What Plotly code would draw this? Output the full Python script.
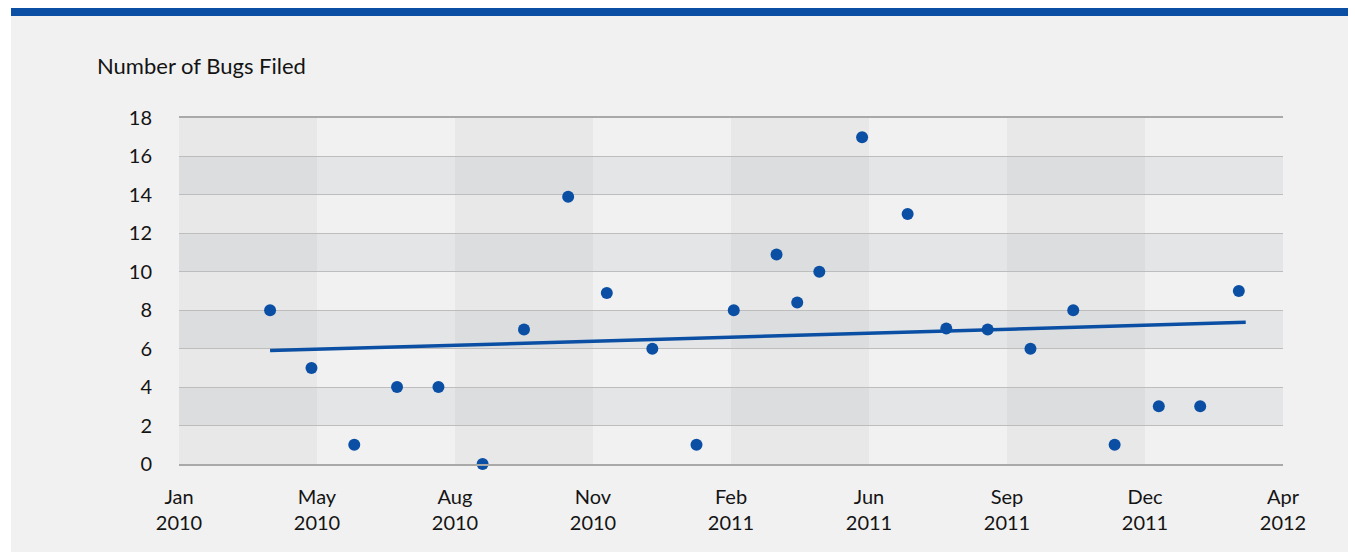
import plotly.graph_objects as go
import pandas as pd

# ---- data ----
dates = ["2010-03-14", "2010-04-13", "2010-05-14", "2010-06-14", "2010-07-14",
         "2010-08-15", "2010-09-14", "2010-10-16", "2010-11-13", "2010-12-16",
         "2011-01-17", "2011-02-13", "2011-03-16", "2011-03-31", "2011-04-16",
         "2011-05-17", "2011-06-19", "2011-07-17", "2011-08-16", "2011-09-16",
         "2011-10-17", "2011-11-16", "2011-12-18", "2012-01-17", "2012-02-14"]
bugs = [8, 5, 1, 4, 4, 0, 7, 13.9, 8.9, 6, 1, 8, 10.9, 8.4, 10, 17, 13, 7.05, 7, 6, 8, 1, 3, 3, 9]

trend_x = ["2010-03-14", "2012-02-19"]
trend_y = [5.9, 7.37]

x_range = ["2010-01-07", "2012-03-17"]
x_tick_labels = ["Jan<br>2010", "May<br>2010", "Aug<br>2010", "Nov<br>2010", "Feb<br>2011",
                 "Jun<br>2011", "Sep<br>2011", "Dec<br>2011", "Apr<br>2012"]
y_ticks = [0, 2, 4, 6, 8, 10, 12, 14, 16, 18]
title_text = "Number of Bugs Filed"

BLUE = "#0a4fa3"
BG = "#f1f1f1"
FONT = "Lato, 'Open Sans', sans-serif"

# evenly spaced tick positions across the axis range
tick_dates = pd.date_range(pd.Timestamp(x_range[0]), pd.Timestamp(x_range[1]),
                           periods=len(x_tick_labels))
tickvals = [d.strftime("%Y-%m-%d %H:%M:%S") for d in tick_dates]

fig = go.Figure()

fig.add_trace(go.Scatter(x=trend_x, y=trend_y, mode="lines",
                         line=dict(color=BLUE, width=3.5), hoverinfo="skip",
                         showlegend=False))
fig.add_trace(go.Scatter(x=dates, y=bugs, mode="markers",
                         marker=dict(color=BLUE, size=12), showlegend=False,
                         cliponaxis=False))

# figure is placed 8px into the page by the default body margin
W, H = 1348, 544
OFF = 8
L, R, T, B = 179 - OFF, 1283 - OFF, 118 - OFF, 464 - OFF
def px_x(p):
    return (p - OFF - L) / (R - L)
def px_y(p):
    return (B - (p - OFF)) / (B - T)

shapes = []
# white strip on the left edge
shapes.append(dict(type="rect", xref="paper", yref="paper", layer="below",
                   x0=px_x(0), x1=px_x(11), y0=px_y(560), y1=px_y(0),
                   fillcolor="white", line=dict(width=0)))
# top bar
shapes.append(dict(type="rect", xref="paper", yref="paper", layer="below",
                   x0=px_x(11), x1=px_x(1360), y0=px_y(16), y1=px_y(4),
                   fillcolor=BLUE, line=dict(width=0)))
# vertical bands: every other tick interval
for i in range(0, len(tickvals) - 1, 2):
    shapes.append(dict(type="rect", xref="x", yref="y domain", layer="below",
                       x0=tickvals[i], x1=tickvals[i + 1], y0=0, y1=1,
                       fillcolor="rgba(0,0,0,0.037)", line=dict(width=0)))
# horizontal bands: every other y interval
for j in range(1, len(y_ticks) - 1, 2):
    shapes.append(dict(type="rect", xref="x domain", yref="y", layer="below",
                       x0=0, x1=1, y0=y_ticks[j], y1=y_ticks[j + 1],
                       fillcolor="rgba(60,80,110,0.066)", line=dict(width=0)))

fig.update_layout(
    width=W, height=H,
    margin=dict(l=L, r=W - R, t=T, b=H - B),
    paper_bgcolor=BG, plot_bgcolor=BG,
    font=dict(family=FONT, size=20, color="#141414"),
    shapes=shapes,
    annotations=[dict(text=title_text, xref="paper", yref="paper",
                      x=px_x(95), y=px_y(65), xanchor="left", yanchor="middle",
                      showarrow=False, font=dict(size=22, color="#141414"))],
)
fig.update_xaxes(type="date", range=x_range, tickvals=tickvals, ticktext=x_tick_labels,
                 showgrid=False, zeroline=False, showline=True, mirror=True,
                 linecolor="#a9a9a9", linewidth=2, ticks="", ticklabelstandoff=14,
                 tickfont=dict(size=20, color="#141414"))
fig.update_yaxes(range=[0, 18], tickvals=y_ticks, showgrid=True, gridcolor="#bdbdbd",
                 gridwidth=1, zeroline=False, showline=False, ticks="",
                 ticklabelstandoff=26, tickfont=dict(size=20, color="#141414"))

fig.write_html("out.html")
